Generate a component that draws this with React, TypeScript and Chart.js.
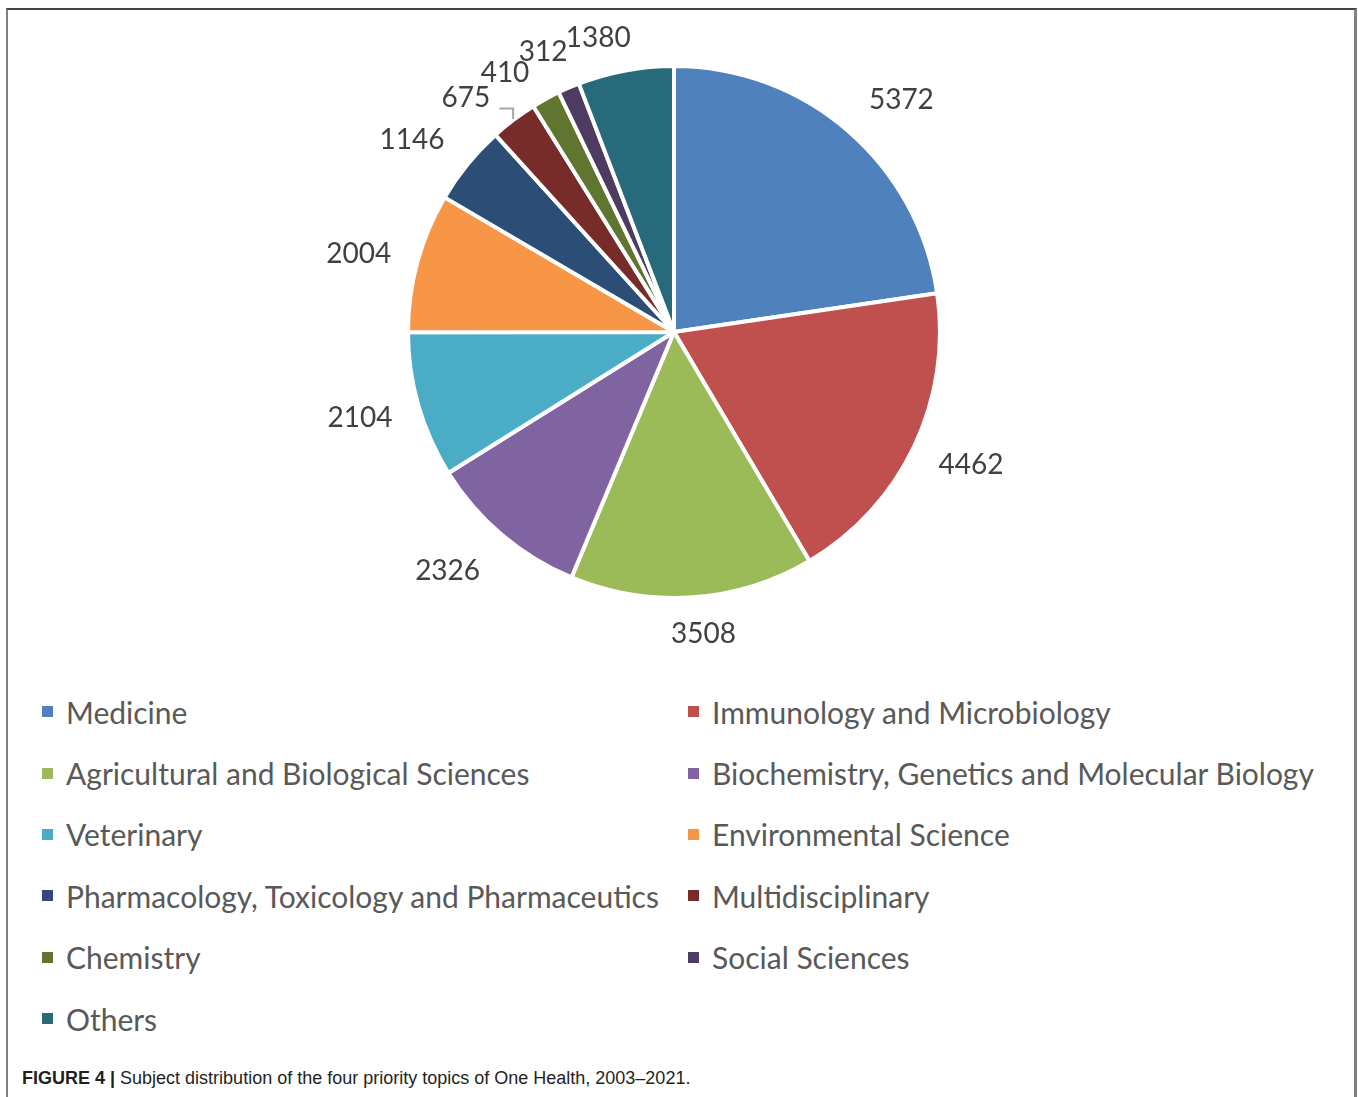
import React, { useEffect, useRef } from "react";
import { Chart, registerables } from "chart.js";

Chart.register(...registerables);

const categories = [
  "Medicine",
  "Immunology and Microbiology",
  "Agricultural and Biological Sciences",
  "Biochemistry, Genetics and Molecular Biology",
  "Veterinary",
  "Environmental Science",
  "Pharmacology, Toxicology and Pharmaceutics",
  "Multidisciplinary",
  "Chemistry",
  "Social Sciences",
  "Others",
];
const documentCounts = [5372, 4462, 3508, 2326, 2104, 2004, 1146, 675, 410, 312, 1380];
const sliceColors = [
  "#4F81BD",
  "#C0504D",
  "#9BBB59",
  "#8064A2",
  "#4BACC6",
  "#F79646",
  "#2C4D75",
  "#772C2A",
  "#5F7530",
  "#4D3B62",
  "#276A7C",
];
// layout tweaks for label placement (pixels relative to automatic outside position)
const labelNudgeX = [16, 5, 7, -17, -3, -3, -11, -18, -17, -6, -17];
const labelNudgeY = [-1, 2, -2, 6, 2, 2, 0, 9, 8, 0, 6];
const labelLeader = [false, false, false, false, false, false, false, true, false, false, false];

const LABEL_FONT = "28px Lato, 'Open Sans', sans-serif";
const LEGEND_FONT = "30px Lato, 'Open Sans', sans-serif";

const outsideLabels = {
  id: "outsideLabels",
  afterDatasetsDraw(chart: any) {
    const ctx = chart.ctx;
    const meta = chart.getDatasetMeta(0);
    const ds = chart.data.datasets[0];
    ctx.save();
    ctx.font = LABEL_FONT;
    ctx.textAlign = "center";
    ctx.textBaseline = "middle";
    const gap = 25;
    const halfH = 14;
    meta.data.forEach((arc: any, i: number) => {
      const p = arc.getProps(["x", "y", "startAngle", "endAngle", "outerRadius"], true);
      const a = (p.startAngle + p.endAngle) / 2;
      const ux = Math.cos(a);
      const uy = Math.sin(a);
      const text = String(ds.data[i]);
      const halfW = ctx.measureText(text).width / 2;
      const R = p.outerRadius;
      const ax = p.x + (R + gap) * ux;
      const ay = p.y + (R + gap) * uy;
      const cx = ax + halfW * ux + labelNudgeX[i];
      const cy = ay + halfH * uy + labelNudgeY[i];
      if (labelLeader[i]) {
        const ex = p.x + (R + 1) * ux;
        const ey = p.y + (R + 1) * uy;
        ctx.strokeStyle = "#A6A6A6";
        ctx.lineWidth = 2;
        ctx.beginPath();
        ctx.moveTo(cx + halfW + 9, cy + 11);
        ctx.lineTo(ex, cy + 11);
        ctx.lineTo(ex, ey);
        ctx.stroke();
      }
      ctx.fillStyle = "#404040";
      ctx.fillText(text, cx, cy);
    });
    ctx.restore();
  },
};

function PieChart() {
  const ref = useRef<HTMLCanvasElement | null>(null);
  useEffect(() => {
    if (!ref.current) return;
    const chart = new Chart(ref.current, {
      type: "pie",
      data: {
        labels: categories,
        datasets: [
          {
            data: documentCounts,
            backgroundColor: sliceColors,
            borderColor: "#FFFFFF",
            borderWidth: 4,
          },
        ],
      },
      options: {
        animation: false,
        responsive: false,
        maintainAspectRatio: false,
        layout: { padding: { top: 64, bottom: 70, left: 406, right: 416 } },
        plugins: {
          legend: { display: false },
          tooltip: { enabled: false },
        },
      },
      plugins: [outsideLabels],
    });
    return () => chart.destroy();
  }, []);
  return (
    <canvas
      ref={ref}
      width={1358}
      height={670}
      style={{ position: "absolute", left: 0, top: 0, width: 1358, height: 670 }}
    />
  );
}

export default function App() {
  useEffect(() => {
    document.body.style.margin = "0";
  }, []);
  return (
    <div style={{ position: "relative", width: 1358, height: 1097, background: "#fff", overflow: "hidden" }}>
      <div
        style={{
          position: "absolute",
          left: 6,
          top: 8,
          width: 1346,
          height: 1120,
          borderTop: "2px solid #444",
          borderLeft: "2px solid #808080",
          borderRight: "3px solid #808080",
        }}
      />
      <PieChart />
      <div
        style={{
          position: "absolute",
          left: 42,
          top: 681,
          display: "grid",
          gridTemplateColumns: "646px auto",
          gridAutoRows: "61.4px",
          font: LEGEND_FONT,
          color: "#595959",
        }}
      >
        {categories.map((c, i) => (
          <div key={c} style={{ display: "flex", alignItems: "center", whiteSpace: "nowrap" }}>
            <span
              style={{ display: "inline-block", width: 11, height: 11, background: sliceColors[i], marginRight: 13, flexShrink: 0 }}
            />
            <span>{c}</span>
          </div>
        ))}
      </div>
      <div
        style={{
          position: "absolute",
          left: 22,
          top: 1068,
          fontFamily: "'Liberation Sans', Arial, sans-serif",
          fontSize: 18,
          color: "#231F20",
          whiteSpace: "nowrap",
        }}
      >
        <b>FIGURE 4 |</b> Subject distribution of the four priority topics of One Health, 2003–2021.
      </div>
    </div>
  );
}
